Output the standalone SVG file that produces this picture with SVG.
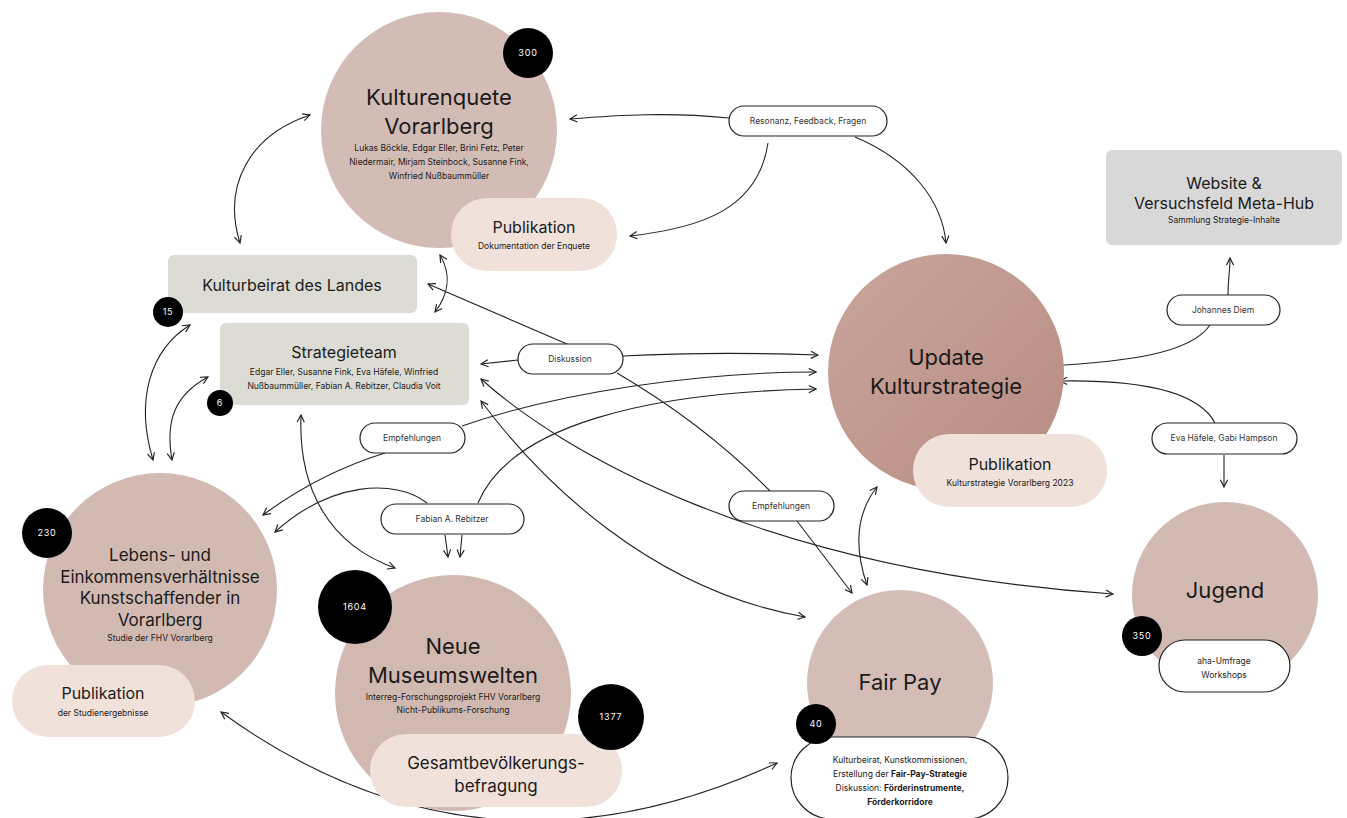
<svg xmlns="http://www.w3.org/2000/svg" width="1347" height="818" viewBox="0 0 1347 818">
<defs>
<style>
text{font-family:Inter,"Liberation Sans",Arial,sans-serif;fill:#1c1a1a;text-anchor:middle}
.big{font-size:22px}
.med{font-size:16px}
.mid{font-size:17px}
.sm{font-size:8.5px}
.lbl{font-size:8.5px;fill:#333}
.bt{font-size:9px;fill:#fff;letter-spacing:0.8px}
.pill{fill:#fff;stroke:#222;stroke-width:1.2}
.pub{fill:#f0e1db}
.gray{fill:#dcdcd4}
.badge{fill:#000}
.c{fill:none;stroke:#222;stroke-width:1.1}
.b{font-weight:700}
</style>
<marker id="ah" viewBox="0 0 10 10" refX="9" refY="5" markerWidth="9" markerHeight="9" markerUnits="userSpaceOnUse" orient="auto-start-reverse">
<path d="M1,1 L9,5 L1,9" fill="none" stroke="#222" stroke-width="1.3"/>
</marker>
<linearGradient id="upd" x1="0" y1="0" x2="1" y2="1">
<stop offset="0" stop-color="#c9a59c"/>
<stop offset="1" stop-color="#b88c82"/>
</linearGradient>
</defs>
<rect width="1347" height="818" fill="#fff"/>

<g id="connectors">
<path class="c" d="M240,243 C222,185 250,135 310,115" marker-start="url(#ah)" marker-end="url(#ah)"/>
<path class="c" d="M440,255 C452,275 448,295 435,312" marker-start="url(#ah)" marker-end="url(#ah)"/>
<path class="c" d="M153,460 C135,400 150,350 190,325" marker-start="url(#ah)" marker-end="url(#ah)"/>
<path class="c" d="M172,460 C165,420 175,395 208,377" marker-start="url(#ah)" marker-end="url(#ah)"/>
<path class="c" d="M301,415 C298,490 330,545 395,568" marker-start="url(#ah)" marker-end="url(#ah)"/>
<path class="c" d="M518,360 L481,364" marker-end="url(#ah)"/>
<path class="c" d="M567,344 L428,284" marker-end="url(#ah)"/>
<path class="c" d="M623,356 C700,352 760,353 818,355" marker-end="url(#ah)"/>
<path class="c" d="M617,373 C680,410 730,450 770,491"/>
<path class="c" d="M797,521 L852,593" marker-end="url(#ah)"/>
<path class="c" d="M867,585 C855,550 855,515 877,487" marker-start="url(#ah)" marker-end="url(#ah)"/>
<path class="c" d="M481,379 C560,450 760,570 1113,594" marker-start="url(#ah)" marker-end="url(#ah)"/>
<path class="c" d="M481,401 C540,480 650,590 805,617" marker-start="url(#ah)" marker-end="url(#ah)"/>
<path class="c" d="M462,426 C560,392 700,372 816,372" marker-end="url(#ah)"/>
<path class="c" d="M385,453 C330,470 290,495 263,515" marker-end="url(#ah)"/>
<path class="c" d="M427,503 C395,478 330,482 275,532" marker-end="url(#ah)"/>
<path class="c" d="M478,503 C510,425 650,392 816,389" marker-end="url(#ah)"/>
<path class="c" d="M445,535 L448,557" marker-end="url(#ah)"/>
<path class="c" d="M462,535 L460,557" marker-end="url(#ah)"/>
<path class="c" d="M729,118 C670,112 620,115 570,119" marker-end="url(#ah)"/>
<path class="c" d="M768,143 C758,210 700,228 630,236" marker-end="url(#ah)"/>
<path class="c" d="M855,137 C910,160 942,200 946,243" marker-end="url(#ah)"/>
<path class="c" d="M1228,295 C1228,280 1230,270 1230,258" marker-end="url(#ah)"/>
<path class="c" d="M1210,325 C1190,355 1120,362 1048,366" marker-end="url(#ah)"/>
<path class="c" d="M1215,423 C1195,385 1120,380 1060,381" marker-end="url(#ah)"/>
<path class="c" d="M1224,455 L1224,487" marker-end="url(#ah)"/>
<path class="c" d="M221,712 Q480,900 777,763" marker-start="url(#ah)" marker-end="url(#ah)"/>
</g>

<g id="kulturenquete">
<circle cx="439" cy="130" r="118" fill="#d3bcb5"/>
<text class="big" x="439" y="105">Kulturenquete</text>
<text class="big" x="439" y="134">Vorarlberg</text>
<text class="sm" x="439" y="151">Lukas Böckle, Edgar Eller, Brini Fetz, Peter</text>
<text class="sm" x="439" y="165">Niedermair, Mirjam Steinbock, Susanne Fink,</text>
<text class="sm" x="439" y="179">Winfried Nußbaummüller</text>
<rect class="pub" x="451" y="198" width="166" height="73" rx="36"/>
<text class="med" x="534" y="233">Publikation</text>
<text class="sm" x="534" y="249">Dokumentation der Enquete</text>
<circle class="badge" cx="528" cy="53" r="25"/>
<text class="bt" x="528" y="56">300</text>
</g>

<g id="kulturbeirat">
<rect class="gray" x="168" y="255" width="249" height="58" rx="6"/>
<text class="med" x="292" y="291">Kulturbeirat des Landes</text>
<circle class="badge" cx="168" cy="312" r="15"/>
<text class="bt" x="168" y="315">15</text>
</g>

<g id="strategieteam">
<rect class="gray" x="220" y="323" width="249" height="82" rx="6"/>
<text class="med" x="344" y="358">Strategieteam</text>
<text class="sm" x="344" y="375">Edgar Eller, Susanne Fink, Eva Häfele, Winfried</text>
<text class="sm" x="344" y="389">Nußbaummüller, Fabian A. Rebitzer, Claudia Voit</text>
<circle class="badge" cx="220" cy="403" r="13"/>
<text class="bt" x="220" y="406">6</text>
</g>

<g id="lebens">
<circle cx="160" cy="590" r="117" fill="#d2bab2"/>
<text class="mid" x="160" y="561">Lebens- und</text>
<text class="mid" x="160" y="583">Einkommensverhältnisse</text>
<text class="mid" x="160" y="604">Kunstschaffender in</text>
<text class="mid" x="160" y="626">Vorarlberg</text>
<text class="sm" x="160" y="641">Studie der FHV Vorarlberg</text>
<rect class="pub" x="12" y="665" width="183" height="72" rx="36"/>
<text class="med" x="103" y="699">Publikation</text>
<text class="sm" x="103" y="716">der Studienergebnisse</text>
<circle class="badge" cx="47" cy="533" r="25"/>
<text class="bt" x="47" y="536">230</text>
</g>

<g id="neue-museumswelten">
<circle cx="453" cy="693" r="118" fill="#d1b9b1"/>
<text class="big" x="453" y="654">Neue</text>
<text class="big" x="453" y="683">Museumswelten</text>
<text class="sm" x="453" y="700">Interreg-Forschungsprojekt FHV Vorarlberg</text>
<text class="sm" x="453" y="713">Nicht-Publikums-Forschung</text>
<rect class="pub" x="370" y="734" width="252" height="73" rx="36"/>
<text class="mid" x="496" y="769">Gesamtbevölkerungs-</text>
<text class="mid" x="496" y="792">befragung</text>
<circle class="badge" cx="355" cy="607" r="37"/>
<text class="bt" x="355" y="610">1604</text>
<circle class="badge" cx="611" cy="717" r="33"/>
<text class="bt" x="611" y="720">1377</text>
</g>

<g id="fair-pay">
<circle cx="900" cy="683" r="93" fill="#d4bdb6"/>
<text class="big" x="900" y="690">Fair Pay</text>
<rect class="pill" x="791" y="737" width="217" height="82" rx="41"/>
<text class="sm" x="900" y="763">Kulturbeirat, Kunstkommissionen,</text>
<text class="sm" x="900" y="777">Erstellung der <tspan class="b">Fair-Pay-Strategie</tspan></text>
<text class="sm" x="900" y="791">Diskussion: <tspan class="b">Förderinstrumente,</tspan></text>
<text class="sm b" x="900" y="805">Förderkorridore</text>
<circle class="badge" cx="816" cy="724" r="20"/>
<text class="bt" x="816" y="727">40</text>
</g>

<g id="update-kulturstrategie">
<circle cx="946" cy="372" r="118" fill="url(#upd)"/>
<text class="big" x="946" y="365">Update</text>
<text class="big" x="946" y="394">Kulturstrategie</text>
<rect class="pub" x="913" y="434" width="194" height="73" rx="36"/>
<text class="med" x="1010" y="470">Publikation</text>
<text class="sm" x="1010" y="486">Kulturstrategie Vorarlberg 2023</text>
</g>

<g id="website">
<rect x="1106" y="150" width="236" height="95" rx="6" fill="#d8d8d8"/>
<text class="med" x="1224" y="189">Website &amp;</text>
<text class="med" x="1224" y="209">Versuchsfeld Meta-Hub</text>
<text class="sm" x="1224" y="223">Sammlung Strategie-Inhalte</text>
</g>

<g id="jugend">
<circle cx="1225" cy="595" r="93" fill="#d2bab3"/>
<text class="big" x="1225" y="598">Jugend</text>
<rect class="pill" x="1159" y="640" width="131" height="52" rx="26"/>
<text class="sm" x="1224" y="664">aha-Umfrage</text>
<text class="sm" x="1224" y="678">Workshops</text>
<circle class="badge" cx="1142" cy="636" r="20"/>
<text class="bt" x="1142" y="639">350</text>
</g>

<g id="label-resonanz"><rect class="pill" x="729" y="106" width="158" height="30" rx="15"/><text class="lbl" x="808" y="124">Resonanz, Feedback, Fragen</text></g>
<g id="label-johannes"><rect class="pill" x="1167" y="295" width="113" height="30" rx="15"/><text class="lbl" x="1223" y="313">Johannes Diem</text></g>
<g id="label-eva"><rect class="pill" x="1152" y="423" width="145" height="31" rx="15.5"/><text class="lbl" x="1224" y="441">Eva Häfele, Gabi Hampson</text></g>
<g id="label-diskussion"><rect class="pill" x="518" y="344" width="105" height="30" rx="15"/><text class="lbl" x="570" y="362">Diskussion</text></g>
<g id="label-empfehlungen-1"><rect class="pill" x="360" y="423" width="105" height="30" rx="15"/><text class="lbl" x="412" y="441">Empfehlungen</text></g>
<g id="label-fabian"><rect class="pill" x="381" y="504" width="143" height="30" rx="15"/><text class="lbl" x="452" y="522">Fabian A. Rebitzer</text></g>
<g id="label-empfehlungen-2"><rect class="pill" x="729" y="491" width="105" height="30" rx="15"/><text class="lbl" x="781" y="509">Empfehlungen</text></g>
</svg>
